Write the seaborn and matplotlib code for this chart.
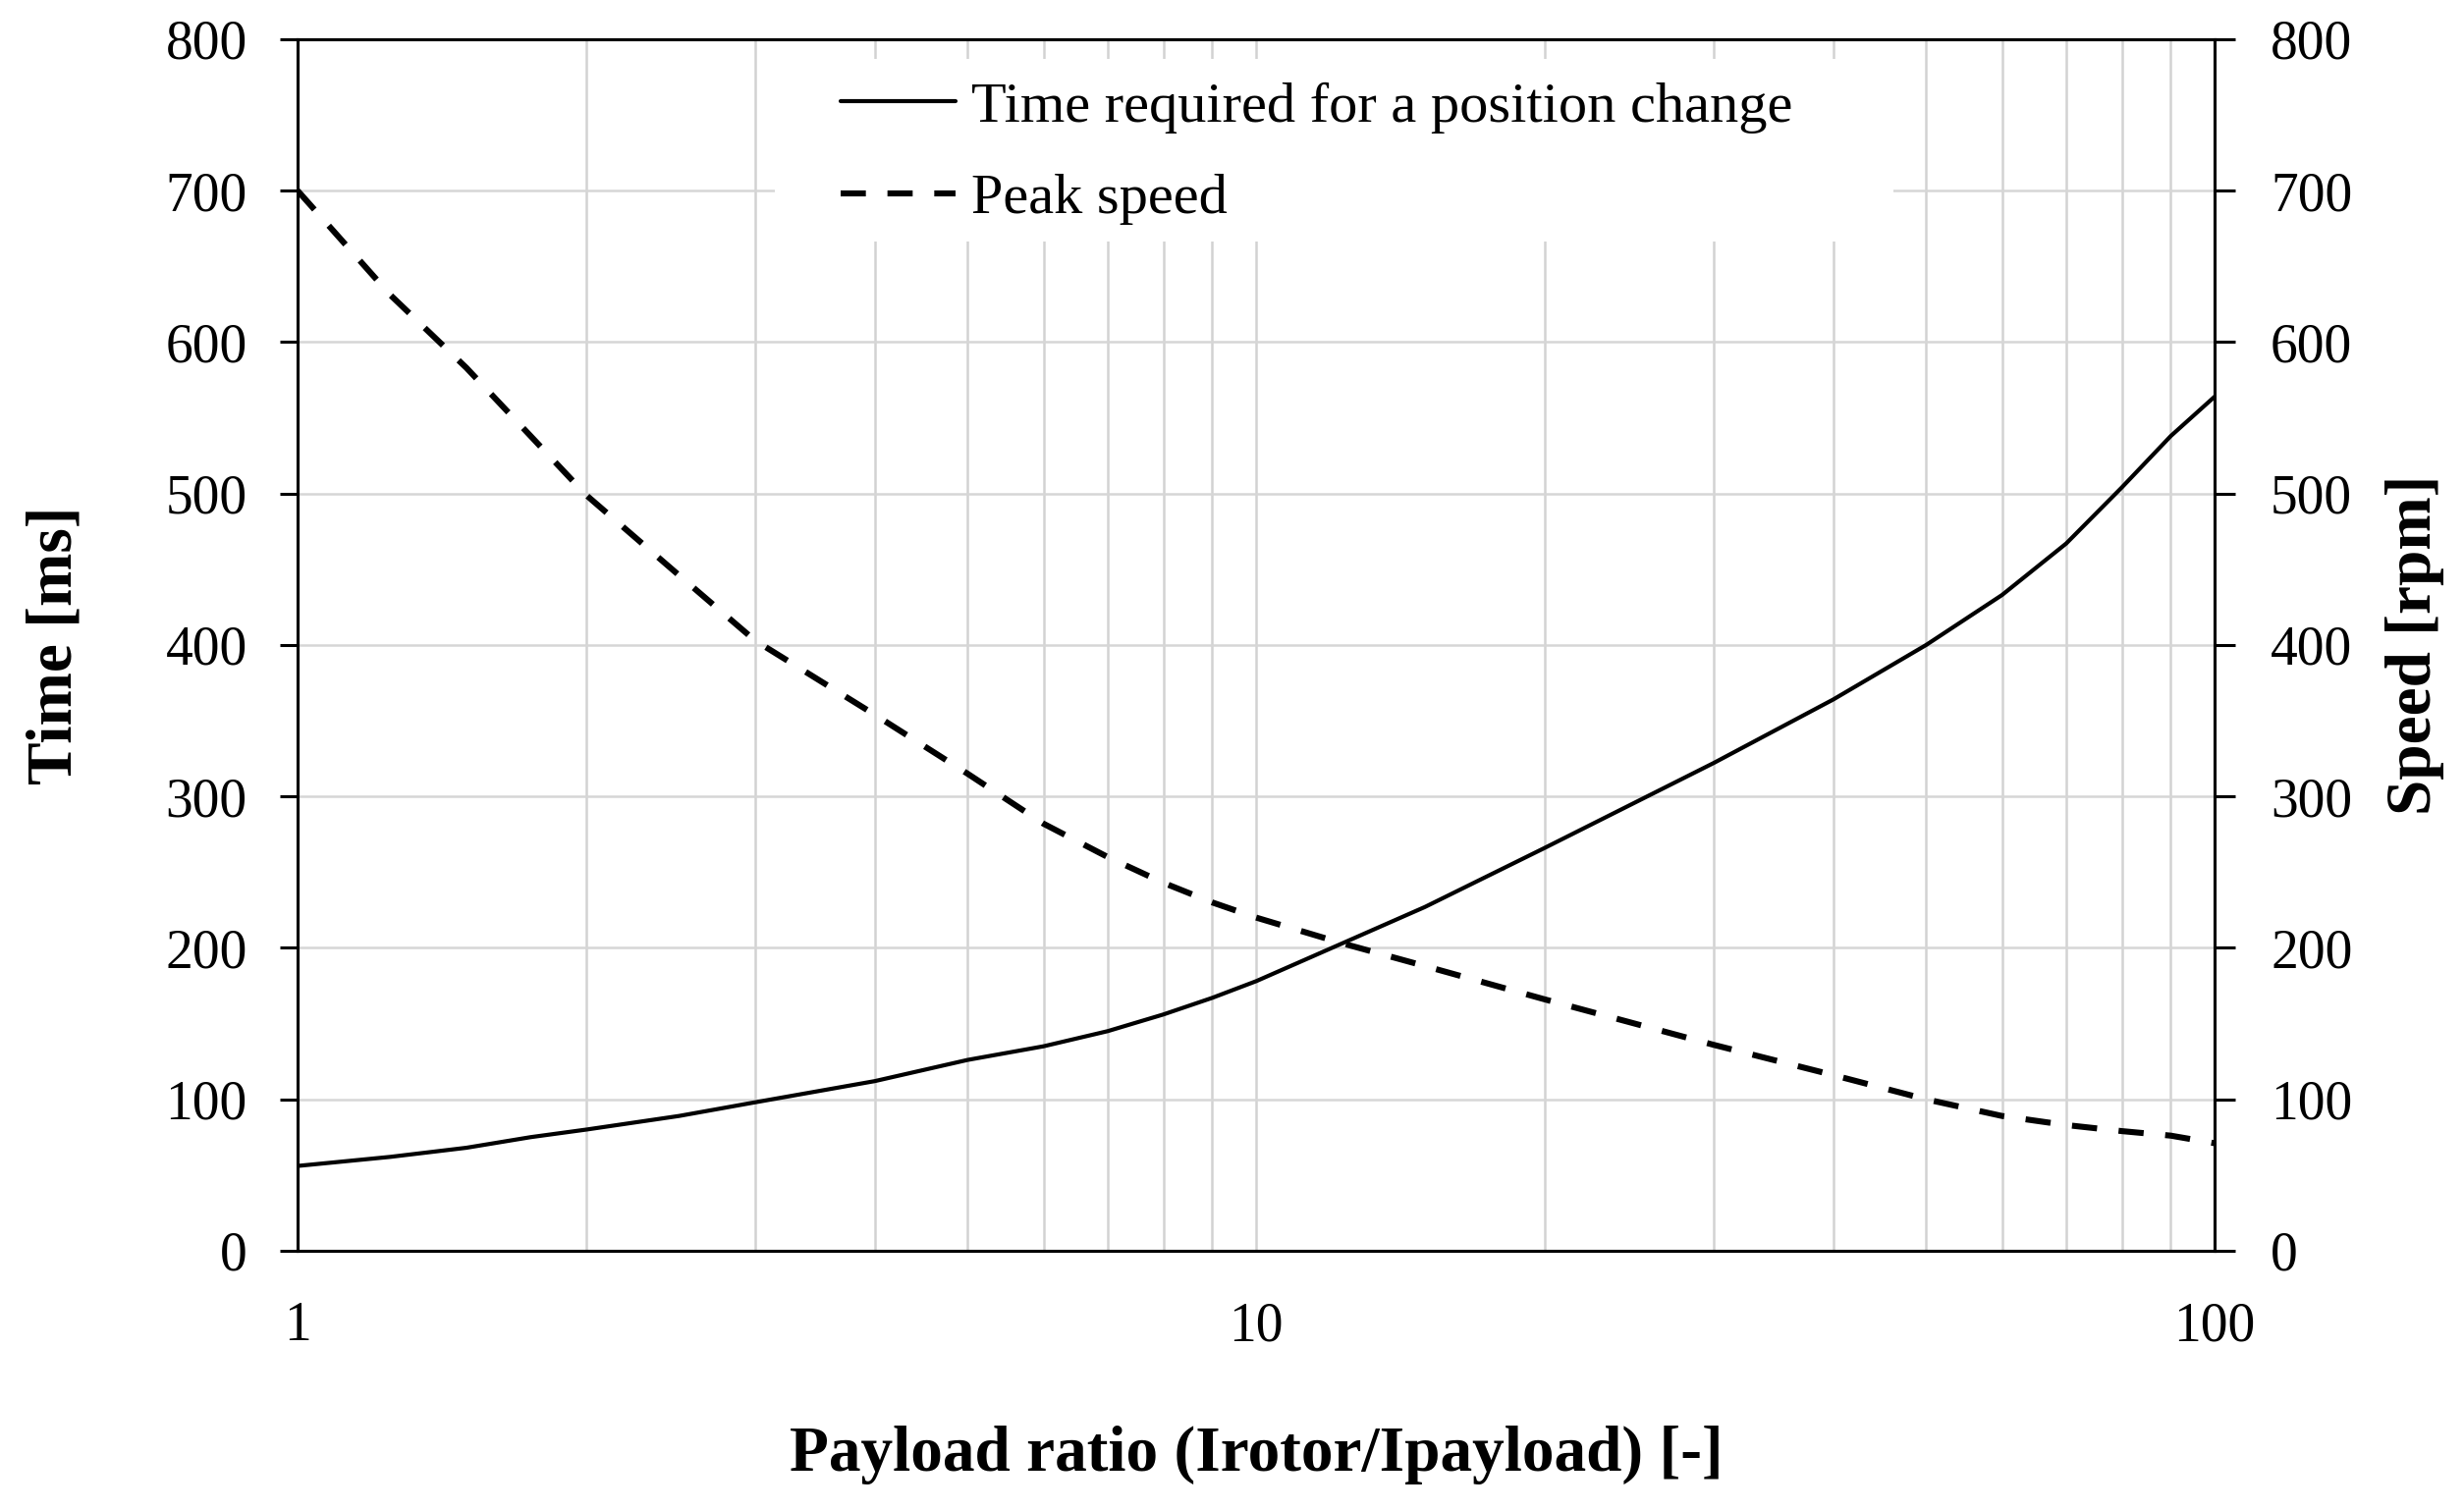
import pandas as pd
import matplotlib.pyplot as plt
import matplotlib.ticker as mticker
from matplotlib.patches import Rectangle
import seaborn as sns

# values
payload_ratio = [1, 1.25, 1.5, 1.75, 2, 2.5, 3, 4, 5, 6, 7, 8, 9, 10, 12.3, 15, 20,
                 30, 40, 50, 60, 70, 80, 90, 100]
time_ms = [56, 62, 68, 75, 80, 89, 98, 112, 126, 135, 145, 156, 167, 178, 203, 227, 266,
           322, 364, 400, 433, 467, 504, 538, 564]
speed_rpm = [700, 631, 583, 538, 499, 446, 403, 354, 315, 282, 260, 243, 230, 220, 203, 188, 166,
             136, 116, 100, 89, 83, 79, 76, 71]
y_ticks = [0, 100, 200, 300, 400, 500, 600, 700, 800]
x_ticks = [1, 10, 100]

sns.set_style('white')
plt.rcParams['font.family'] = ['Liberation Serif', 'DejaVu Serif']
plt.rcParams['text.color'] = 'black'
plt.rcParams['xtick.color'] = 'black'
plt.rcParams['ytick.color'] = 'black'
plt.rcParams['axes.labelcolor'] = 'black'

df = pd.DataFrame({'ratio': payload_ratio, 'time': time_ms, 'speed': speed_rpm})

fig = plt.figure(figsize=(12.545, 7.69), dpi=200)
ax = fig.add_axes([0.1208, 0.1717, 0.7780, 0.8023])
ax2 = ax.twinx()

sns.lineplot(data=df, x='ratio', y='time', ax=ax, color='black', lw=1.5,
             label='Time required for a position change')
sns.lineplot(data=df, x='ratio', y='speed', ax=ax2, color='black', lw=2.2,
             linestyle=(0, (4.2, 3.6)), label='Peak speed')

ax.set_xscale('log')
ax.set_xlim(1, 100)
ax.set_ylim(0, 800)
ax2.set_ylim(0, 800)
ax.set_yticks(y_ticks)
ax2.set_yticks(y_ticks)
ax.set_xticks(x_ticks)
ax.xaxis.set_major_formatter(mticker.FuncFormatter(lambda v, p: '%g' % v))
ax.xaxis.set_minor_formatter(mticker.NullFormatter())

# grid
ax.set_axisbelow(True)
ax.grid(which='both', axis='x', color='#d2d2d2', lw=0.9)
ax.grid(which='major', axis='y', color='#d6d6d6', lw=0.9)

ax.tick_params(axis='both', which='major', direction='out', length=6.5, width=1.1,
               labelsize=20, pad=12, color='black', labelcolor='black')
ax.tick_params(which='minor', length=0)
ax2.tick_params(axis='y', which='major', direction='out', length=7.5, width=1.1,
                labelsize=20, pad=13, color='black', labelcolor='black')
for a in (ax, ax2):
    for s in a.spines.values():
        s.set_color('black')
        s.set_linewidth(1.1)

ax.set_xlabel('Payload ratio (Irotor/Ipayload) [-]', fontsize=23.5, fontweight='bold',
              color='black')
ax.xaxis.set_label_coords(0.5, -0.1686)
ax.xaxis.label.set_va('center')
ax.set_ylabel('Time [ms]', fontsize=23.5, fontweight='bold', color='black')
ax.yaxis.set_label_coords(-0.1265, 0.5)
ax.yaxis.label.set_va('center')
ax2.set_ylabel('Speed [rpm]', fontsize=23.5, fontweight='bold', color='black')
ax2.yaxis.set_label_coords(1.1045, 0.5)
ax2.yaxis.label.set_va('center')

# white legend background covering the grid
ax.add_patch(Rectangle((0.249, 0.833), 0.5835, 0.1507, transform=ax.transAxes,
                       facecolor='white', edgecolor='none', zorder=1))

h1, l1 = ax.get_legend_handles_labels()
h2, l2 = ax2.get_legend_handles_labels()
ax.get_legend().remove()
ax2.get_legend().remove()
leg = ax2.legend(h1 + h2, l1 + l2, loc='center left', bbox_to_anchor=(0.2833, 0.906),
                 frameon=False, fontsize=21, borderaxespad=0, borderpad=0,
                 handlelength=2.0, handletextpad=0.28, labelspacing=0.69)
for t in leg.get_texts():
    t.set_color('black')

fig.savefig('out.png', dpi=200)
